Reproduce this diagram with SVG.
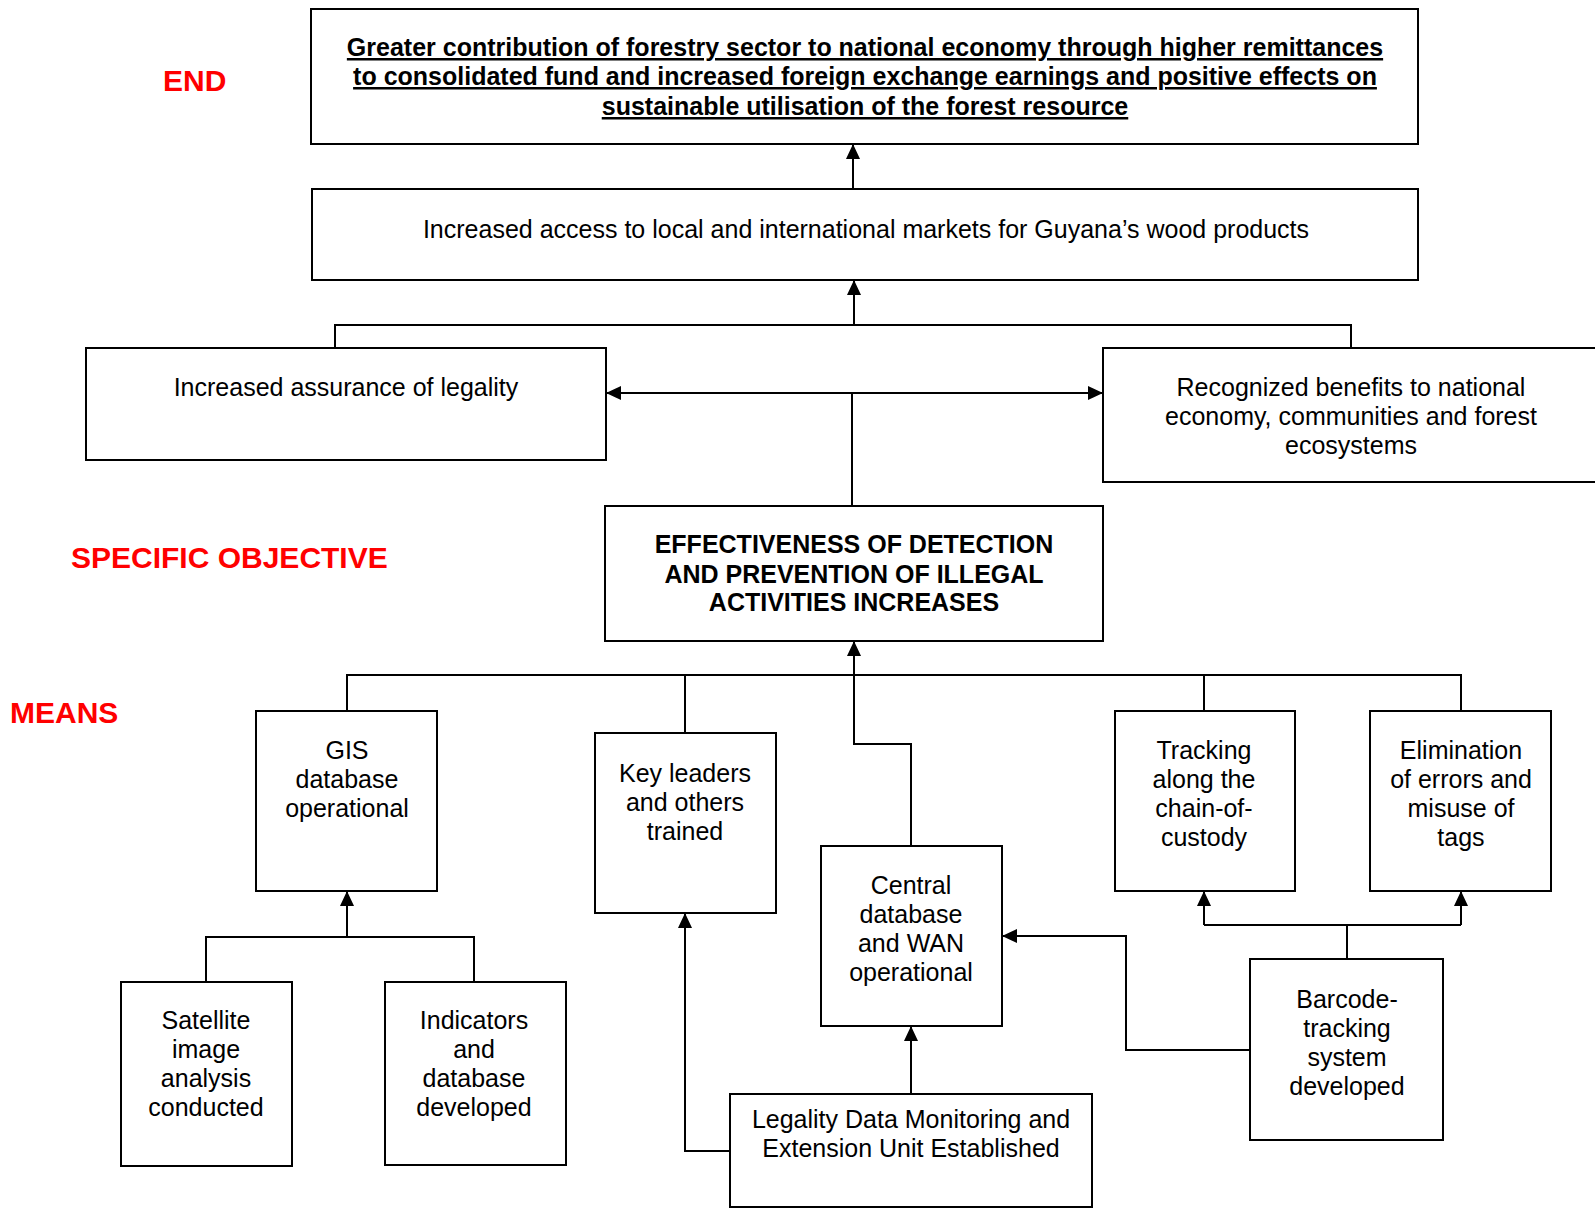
<svg xmlns="http://www.w3.org/2000/svg" width="1595" height="1208" viewBox="0 0 1595 1208">
<style>
.box{fill:#fff;stroke:#000;stroke-width:2}
.t{font-family:"Liberation Sans",Arial,sans-serif;font-size:25px;fill:#000;text-anchor:middle}
.b{font-weight:bold}
.u{text-decoration:underline}
.lbl{font-family:"Liberation Sans",Arial,sans-serif;font-size:30px;font-weight:bold;fill:#ff0000}
.c{fill:none;stroke:#000;stroke-width:2}
</style>
<defs>
<marker id="ah" markerUnits="userSpaceOnUse" markerWidth="15" markerHeight="14" refX="15" refY="7" orient="auto-start-reverse" viewBox="0 0 15 14">
<path d="M0,0 L15,7 L0,14 Z" fill="#000"/>
</marker>
</defs>
<rect width="1595" height="1208" fill="#fff"/>
<text class="lbl" x="163" y="91">END</text>
<text class="lbl" x="71" y="568">SPECIFIC OBJECTIVE</text>
<text class="lbl" x="10" y="723">MEANS</text>
<g id="connectors">
<path class="c" d="M853,189 V144" marker-end="url(#ah)"/>
<path class="c" d="M854,325 V280" marker-end="url(#ah)"/>
<path class="c" d="M335,348 V325 H1351 V348"/>
<path class="c" d="M606,393 H1103" marker-start="url(#ah)" marker-end="url(#ah)"/>
<path class="c" d="M852,393 V506"/>
<path class="c" d="M854,675 V641" marker-end="url(#ah)"/>
<path class="c" d="M347,711 V675 H1461 V711"/>
<path class="c" d="M685,675 V733"/>
<path class="c" d="M1204,675 V711"/>
<path class="c" d="M854,675 V744 H911 V846"/>
<path class="c" d="M206,982 V937 H474 V982"/>
<path class="c" d="M347,937 V891" marker-end="url(#ah)"/>
<path class="c" d="M730,1151 H685 V913" marker-end="url(#ah)"/>
<path class="c" d="M911,1094 V1026" marker-end="url(#ah)"/>
<path class="c" d="M1250,1050 H1126 V936 H1002" marker-end="url(#ah)"/>
<path class="c" d="M1347,959 V925"/>
<path class="c" d="M1204,925 H1461"/>
<path class="c" d="M1204,925 V891" marker-end="url(#ah)"/>
<path class="c" d="M1461,925 V891" marker-end="url(#ah)"/>
</g>
<g id="end">
<rect class="box" x="311" y="9" width="1107" height="135"/>
<text class="t b u" x="865" y="56">Greater contribution of forestry sector to national economy through higher remittances</text>
<text class="t b u" x="865" y="85">to consolidated fund and increased foreign exchange earnings and positive effects on</text>
<text class="t b u" x="865" y="115">sustainable utilisation of the forest resource</text>
</g>
<g id="markets">
<rect class="box" x="312" y="189" width="1106" height="91"/>
<text class="t" x="866" y="238">Increased access to local and international markets for Guyana’s wood products</text>
</g>
<g id="legality">
<rect class="box" x="86" y="348" width="520" height="112"/>
<text class="t" x="346" y="396">Increased assurance of legality</text>
</g>
<g id="benefits">
<rect class="box" x="1103" y="348" width="500" height="134"/>
<text class="t" x="1351" y="396">Recognized benefits to national</text>
<text class="t" x="1351" y="425">economy, communities and forest</text>
<text class="t" x="1351" y="454">ecosystems</text>
</g>
<g id="objective">
<rect class="box" x="605" y="506" width="498" height="135"/>
<text class="t b" x="854" y="553">EFFECTIVENESS OF DETECTION</text>
<text class="t b" x="854" y="583">AND PREVENTION OF ILLEGAL</text>
<text class="t b" x="854" y="611">ACTIVITIES INCREASES</text>
</g>
<g id="gis">
<rect class="box" x="256" y="711" width="181" height="180"/>
<text class="t" x="347" y="759">GIS</text>
<text class="t" x="347" y="788">database</text>
<text class="t" x="347" y="817">operational</text>
</g>
<g id="keyleaders">
<rect class="box" x="595" y="733" width="181" height="180"/>
<text class="t" x="685" y="782">Key leaders</text>
<text class="t" x="685" y="811">and others</text>
<text class="t" x="685" y="840">trained</text>
</g>
<g id="central">
<rect class="box" x="821" y="846" width="181" height="180"/>
<text class="t" x="911" y="894">Central</text>
<text class="t" x="911" y="923">database</text>
<text class="t" x="911" y="952">and WAN</text>
<text class="t" x="911" y="981">operational</text>
</g>
<g id="tracking">
<rect class="box" x="1115" y="711" width="180" height="180"/>
<text class="t" x="1204" y="759">Tracking</text>
<text class="t" x="1204" y="788">along the</text>
<text class="t" x="1204" y="817">chain-of-</text>
<text class="t" x="1204" y="846">custody</text>
</g>
<g id="elimination">
<rect class="box" x="1370" y="711" width="181" height="180"/>
<text class="t" x="1461" y="759">Elimination</text>
<text class="t" x="1461" y="788">of errors and</text>
<text class="t" x="1461" y="817">misuse of</text>
<text class="t" x="1461" y="846">tags</text>
</g>
<g id="satellite">
<rect class="box" x="121" y="982" width="171" height="184"/>
<text class="t" x="206" y="1029">Satellite</text>
<text class="t" x="206" y="1058">image</text>
<text class="t" x="206" y="1087">analysis</text>
<text class="t" x="206" y="1116">conducted</text>
</g>
<g id="indicators">
<rect class="box" x="385" y="982" width="181" height="183"/>
<text class="t" x="474" y="1029">Indicators</text>
<text class="t" x="474" y="1058">and</text>
<text class="t" x="474" y="1087">database</text>
<text class="t" x="474" y="1116">developed</text>
</g>
<g id="unit">
<rect class="box" x="730" y="1094" width="362" height="113"/>
<text class="t" x="911" y="1128">Legality Data Monitoring and</text>
<text class="t" x="911" y="1157">Extension Unit Established</text>
</g>
<g id="barcode">
<rect class="box" x="1250" y="959" width="193" height="181"/>
<text class="t" x="1347" y="1008">Barcode-</text>
<text class="t" x="1347" y="1037">tracking</text>
<text class="t" x="1347" y="1066">system</text>
<text class="t" x="1347" y="1095">developed</text>
</g>
</svg>
